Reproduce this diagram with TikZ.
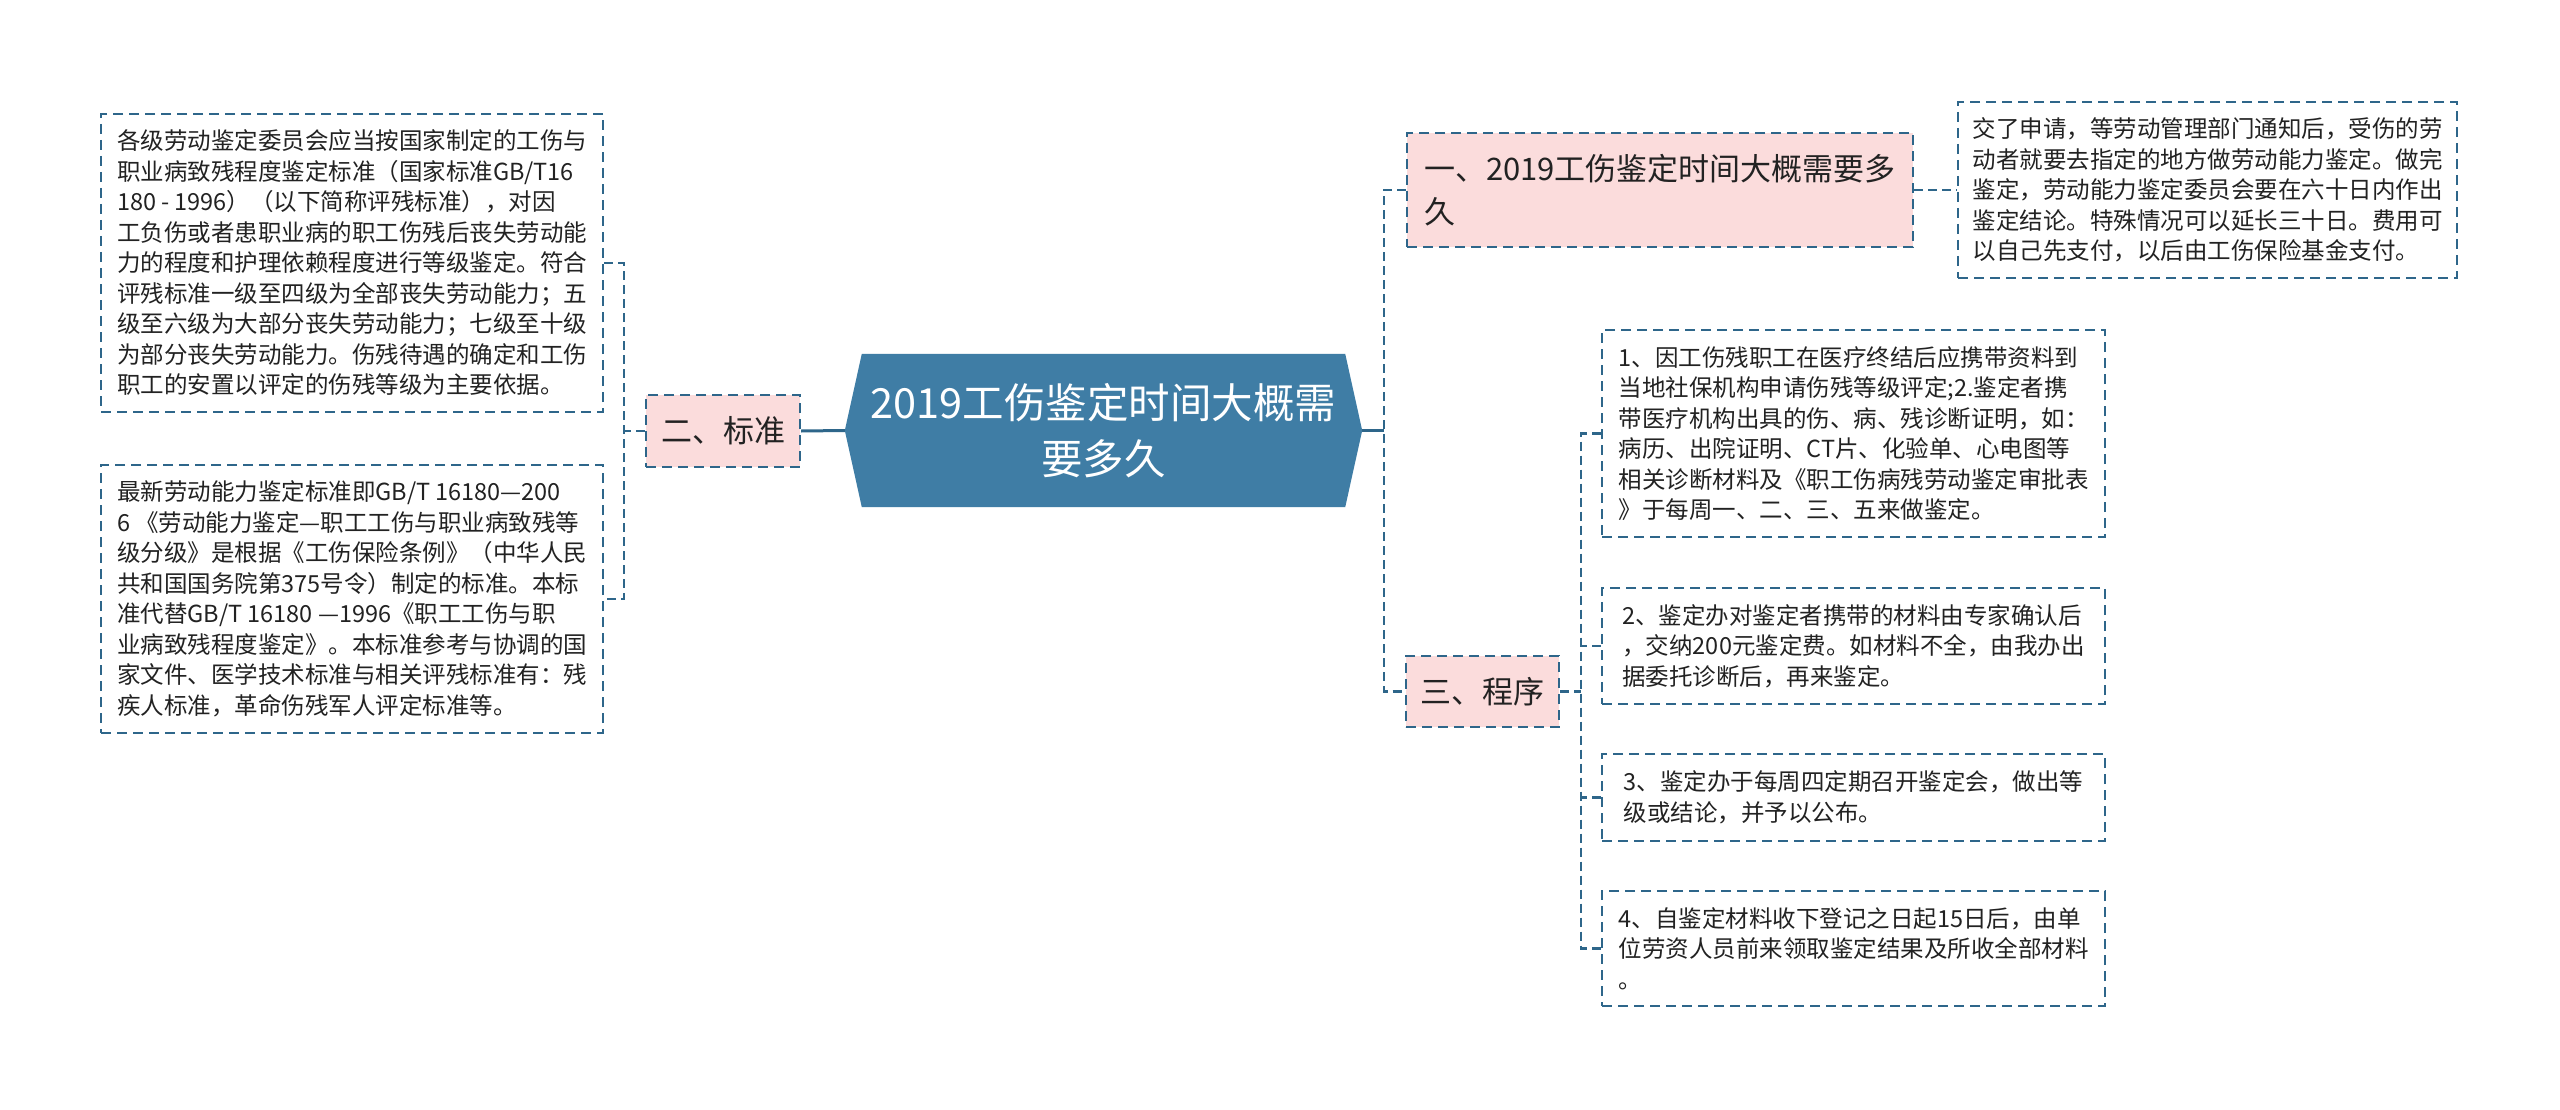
\documentclass[tikz,border=0pt]{standalone}
\usepackage{fontspec}
\setmainfont{Noto Sans CJK SC}
\usetikzlibrary{backgrounds}
\definecolor{linec}{RGB}{46,102,138}
\definecolor{mainblue}{RGB}{63,125,165}
\definecolor{pinkc}{RGB}{251,220,220}
\definecolor{textc}{RGB}{34,34,34}
\tikzset{
  conn/.style={draw=linec, line width=2.4pt, dash pattern=on 9pt off 5pt},
  trunk/.style={draw=linec, line width=3pt},
  detail/.style={draw=linec, line width=2.2pt, dash pattern=on 10pt off 6pt, fill=white,
    align=left, inner sep=0pt, text=textc, font=\fontsize{23.5}{30.5}\selectfont},
  branch/.style={draw=linec, line width=2.2pt, dash pattern=on 10pt off 6pt, fill=pinkc,
    align=left, inner sep=0pt, text=textc, font=\fontsize{31}{43}\selectfont},
  mainnode/.style={align=center, inner sep=0pt, text=white, font=\fontsize{41.5}{56}\selectfont}
}
\begin{document}
\begin{tikzpicture}[x=1pt,y=-1pt]
\useasboundingbox (0,0) rectangle (2560,1110);

% center
\node[mainnode, minimum width=517pt, minimum height=153pt] (c) at (1103.5,430.5) {2019工伤鉴定时间大概需\\要多久};
\begin{scope}[on background layer]
\fill[white] (0,0) rectangle (2560,1110);
\fill[mainblue] ([xshift=17pt]c.north west) -- (c.west) -- ([xshift=17pt]c.south west)
  -- ([xshift=-17pt]c.south east) -- (c.east) -- ([xshift=-17pt]c.north east) -- cycle;
\end{scope}

% left side
\node[branch, minimum width=154pt, minimum height=72pt] (std) at (723,431) {二、标准};
\node[detail, minimum width=502pt, minimum height=298pt] (box1) at (352,263) {各级劳动鉴定委员会应当按国家制定的工伤与\\职业病致残程度鉴定标准（国家标准GB/T16\\180 - 1996）（以下简称评残标准），对因\\工负伤或者患职业病的职工伤残后丧失劳动能\\力的程度和护理依赖程度进行等级鉴定。符合\\评残标准一级至四级为全部丧失劳动能力；五\\级至六级为大部分丧失劳动能力；七级至十级\\为部分丧失劳动能力。伤残待遇的确定和工伤\\职工的安置以评定的伤残等级为主要依据。};
\node[detail, minimum width=502pt, minimum height=268pt] (box2) at (352,599) {最新劳动能力鉴定标准即GB/T 16180—200\\6 《劳动能力鉴定—职工工伤与职业病致残等\\级分级》是根据《工伤保险条例》（中华人民\\共和国国务院第375号令）制定的标准。本标\\准代替GB/T 16180 —1996《职工工伤与职\\业病致残程度鉴定》。本标准参考与协调的国\\家文件、医学技术标准与相关评残标准有：残\\疾人标准，革命伤残军人评定标准等。};

% right side
\node[branch, minimum width=506pt, minimum height=114pt] (b1) at (1660,190) {一、2019工伤鉴定时间大概需要多\\久};
\node[detail, minimum width=499pt, minimum height=176pt] (d1) at (2207.5,190) {交了申请，等劳动管理部门通知后，受伤的劳\\动者就要去指定的地方做劳动能力鉴定。做完\\鉴定，劳动能力鉴定委员会要在六十日内作出\\鉴定结论。特殊情况可以延长三十日。费用可\\以自己先支付，以后由工伤保险基金支付。};
\node[branch, minimum width=153pt, minimum height=71pt] (prog) at (1482.5,691.5) {三、程序};
\node[detail, minimum width=503pt, minimum height=207pt] (pa) at (1853.5,433.5) {1、因工伤残职工在医疗终结后应携带资料到\\当地社保机构申请伤残等级评定;2.鉴定者携\\带医疗机构出具的伤、病、残诊断证明，如：\\病历、出院证明、CT片、化验单、心电图等\\相关诊断材料及《职工伤病残劳动鉴定审批表\\》于每周一、二、三、五来做鉴定。};
\node[detail, minimum width=503pt, minimum height=116pt] (pb) at (1853.5,646) {2、鉴定办对鉴定者携带的材料由专家确认后\\，交纳200元鉴定费。如材料不全，由我办出\\据委托诊断后，再来鉴定。};
\node[detail, minimum width=503pt, minimum height=87pt] (pc) at (1853.5,797.5) {3、鉴定办于每周四定期召开鉴定会，做出等\\级或结论，并予以公布。};
\node[detail, minimum width=503pt, minimum height=115pt] (pd) at (1853.5,948.5) {4、自鉴定材料收下登记之日起15日后，由单\\位劳资人员前来领取鉴定结果及所收全部材料\\。};

% bracket x positions
\coordinate (lbx) at (624,0);
\coordinate (rbx) at (1384,0);
\coordinate (pbx) at (1581,0);

% connectors
\draw[trunk] (std.east) -- (c.west);
\draw[conn] (box1.east) -- (box1.east -| lbx) -- (box2.east -| lbx) -- (box2.east);
\draw[conn] (std.west) -- (std.west -| lbx);

\draw[trunk] (c.east) -- (c.east -| rbx);
\draw[conn] (b1.west) -- (b1.west -| rbx) -- (prog.west -| rbx) -- (prog.west);
\draw[conn] (b1.east) -- (d1.west);

\draw[conn] (pa.west) -- (pa.west -| pbx) -- (pd.west -| pbx) -- (pd.west);
\draw[conn] (pb.west) -- (pb.west -| pbx);
\draw[conn] (pc.west) -- (pc.west -| pbx);
\draw[conn] (prog.east) -- (prog.east -| pbx);
\end{tikzpicture}
\end{document}
